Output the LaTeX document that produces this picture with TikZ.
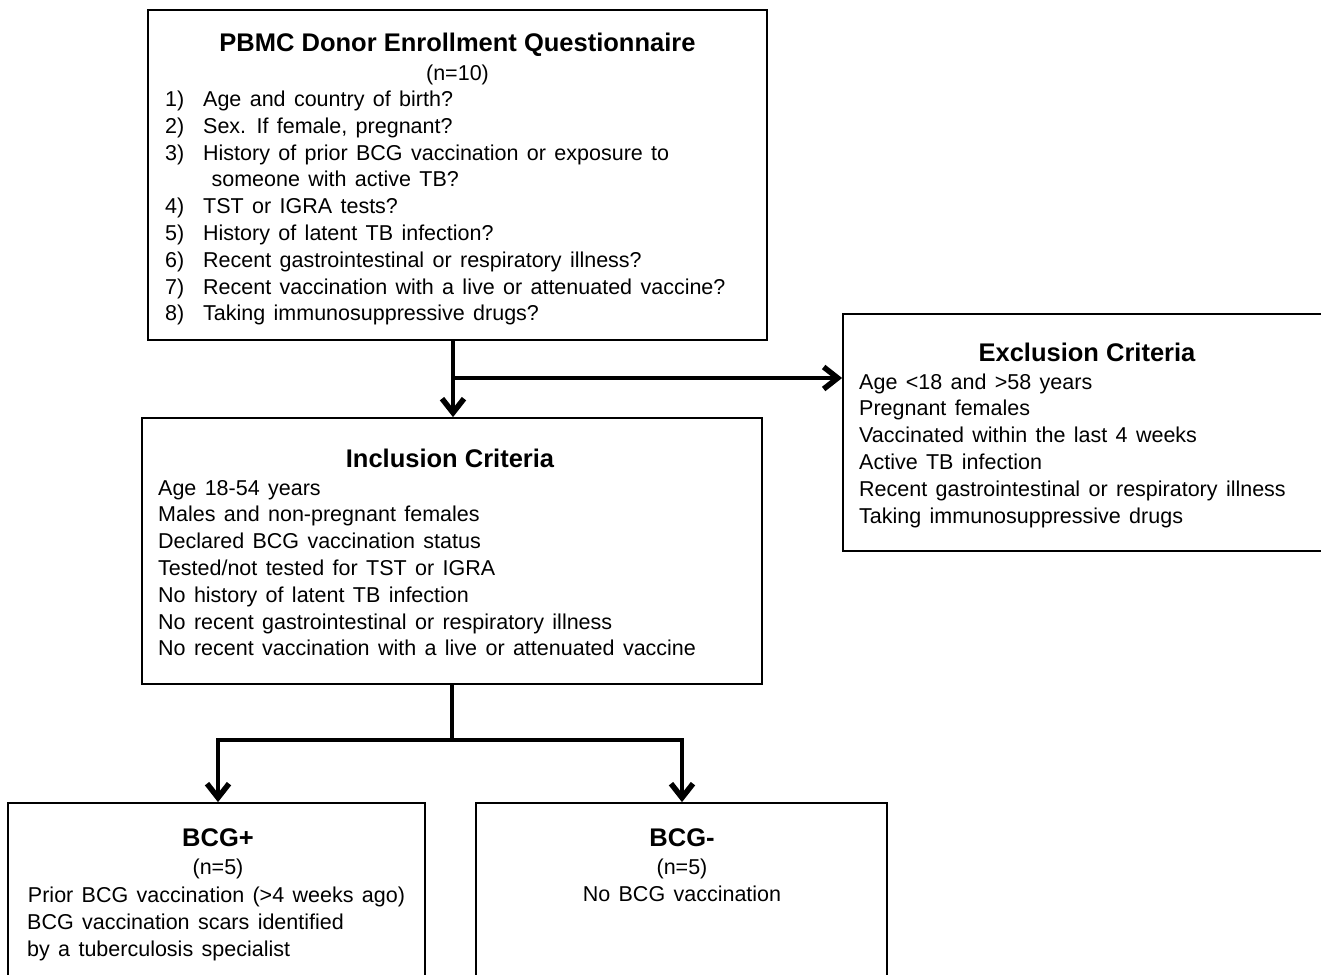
\documentclass[tikz,border=0pt]{standalone}
\usepackage{fontspec}
\setmainfont{Liberation Sans}
\newfontfamily\bodyfont[WordSpace=1.4]{Liberation Sans}
\usetikzlibrary{arrows.meta}
\begin{document}
\begin{tikzpicture}[x=1pt,y=-1pt,
  box/.style={draw=black,line width=1.8pt,fill=none,inner sep=0pt},
  ttl/.style={font=\fontsize{25.5}{30}\selectfont\bfseries,inner sep=0pt,anchor=base},
  txt/.style={font=\bodyfont\fontsize{21.5}{26.8}\selectfont,inner sep=0pt,anchor=base west},
  ctxt/.style={font=\bodyfont\fontsize{21.5}{26.8}\selectfont,inner sep=0pt,anchor=base},
  conn/.style={line width=4.5pt},
  arr/.style={line width=4.5pt,-{Straight Barb[length=14pt,width=22pt,line width=5.5pt]}}]
\useasboundingbox[fill=white] (0,0) rectangle (1321,974);
% boxes
\node[box,minimum width=619pt,minimum height=330pt] (top) at (457.5,175) {};
\node[box,minimum width=620pt,minimum height=266pt] (incl) at (452,551) {};
\node[box,minimum width=482pt,minimum height=237pt] (excl) at (1084,432.5) {};
\node[box,minimum width=417pt,minimum height=180pt] (bp) at (216.5,893) {};
\node[box,minimum width=411pt,minimum height=180pt] (bm) at (681.5,893) {};
% top text
\node[ttl] (topt) at (457.5,52) {PBMC Donor Enrollment Questionnaire};
\node[ctxt] (topn) at (457.5,81) {(n=10)};
\foreach \n/\t [count=\i] in {1)/Age and country of birth?, 2)/{Sex. If female, pregnant?}, 3)/History of prior BCG vaccination or exposure to, {}/\ someone with active TB?, 4)/TST or IGRA tests?, 5)/History of latent TB infection?, 6)/Recent gastrointestinal or respiratory illness?, 7)/Recent vaccination with a live or attenuated vaccine?, 8)/Taking immunosuppressive drugs?}
  \node[txt] (q\i) at (165,{106.5+26.8*(\i-1)}) {\makebox[38pt][l]{\n}\t};
% inclusion text
\node[ttl] (inct) at (450,467) {Inclusion Criteria};
\foreach \t [count=\i] in {Age 18-54 years, Males and non-pregnant females, Declared BCG vaccination status, Tested/not tested for TST or IGRA, No history of latent TB infection, No recent gastrointestinal or respiratory illness, No recent vaccination with a live or attenuated vaccine}
  \node[txt] (in\i) at (158,{495+26.8*(\i-1)}) {\t};
% exclusion text
\node[ttl] (exct) at (1087,361) {Exclusion Criteria};
\foreach \t [count=\i] in {Age {<}18 and {>}58 years, Pregnant females, Vaccinated within the last 4 weeks, Active TB infection, Recent gastrointestinal or respiratory illness, Taking immunosuppressive drugs}
  \node[txt] (ex\i) at (859,{389+26.8*(\i-1)}) {\t};
% BCG+
\node[ttl] (bpt) at (218,846) {BCG+};
\node[ctxt] (bpn) at (218,874) {(n=5)};
\node[ctxt] (bp1) at (216.5,902) {Prior BCG vaccination (>4 weeks ago)};
\node[txt] (bp2) at (27,929) {BCG vaccination scars identified};
\node[txt] (bp3) at (27,956) {by a tuberculosis specialist};
% BCG-
\node[ttl] (bmt) at (682,846) {BCG-};
\node[ctxt] (bmn) at (682,874) {(n=5)};
\node[ctxt] (bm1) at (682,901) {No BCG vaccination};
% connectors
\coordinate (j1) at (453,378);
\coordinate (j2) at (452,740);
\coordinate (jl) at (218,740);
\coordinate (jr) at (682,740);
\draw[arr] (top.south -| j1) -- (incl.north -| j1);
\draw[arr] (j1) -- (excl.west |- j1);
\draw[conn] (incl.south -| j2) -- (j2);
\draw[conn,line cap=rect] (jl) -- (jr);
\draw[arr] (jl) -- (bp.north -| jl);
\draw[arr] (jr) -- (bm.north -| jr);
\end{tikzpicture}
\end{document}
